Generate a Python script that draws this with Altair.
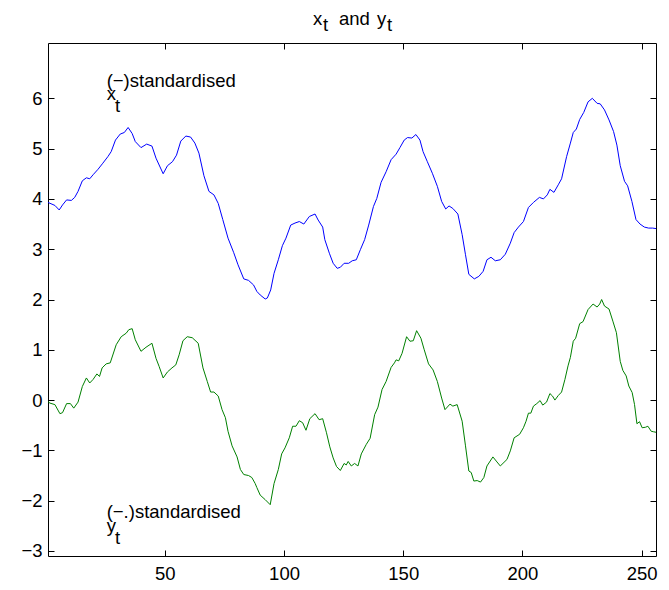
import altair as alt
import pandas as pd

# ---- data ----
t_x = [1, 3.9, 5.7, 7.1, 8.8, 10.8, 12.2, 13.6, 15.4, 17.1, 18.5, 19.9, 22.0, 24.0, 26.1, 27.5,
       29.3, 31.3, 33.0, 34.6, 36.3, 37.6, 40.0, 42.4, 44.6, 46.3, 49.3, 51.1, 53.2, 54.9, 56.7,
       58.8, 60.8, 62.6, 64.3, 66.4, 68.5, 70.6, 72.4, 74.3, 76.5, 78.9, 80.7, 83.1, 85.1, 87.2,
       88.6, 90.0, 92.1, 93.0, 94.4, 95.8, 97.6, 99.3, 100.8, 102.8, 104.6, 106.4, 108.3, 110.6,
       113.0, 114.3, 116.2, 117.1, 119.0, 120.6, 122.3, 123.6, 125.2, 127.1, 128.6, 130.3, 132.0,
       133.8, 135.5, 137.5, 138.9, 140.7, 142.8, 144.9, 147.0, 148.6, 150.4, 151.8, 153.6, 155.3,
       157.0, 158.3, 160.1, 162.2, 164.3, 166.1, 167.8, 169.2, 170.8, 172.9, 174.7, 176.1, 177.5,
       179.8, 181.7, 183.5, 185.1, 186.8, 188.6, 190.7, 192.8, 194.9, 196.5, 198.3, 200.4, 202.5,
       204.6, 207.1, 208.8, 210.4, 211.5, 213.2, 215.0, 216.4, 218.5, 220.1, 221.3, 222.6, 224.0,
       225.7, 227.5, 229.3, 231.3, 232.6, 234.4, 236.3, 238.2, 239.6, 241.0, 242.8, 244.1, 245.9,
       247.6, 249.3, 251.1, 252.9, 254.6, 256]
x_vals = [3.93, 3.87, 3.78, 3.88, 3.98, 3.97, 4.03, 4.15, 4.36, 4.42, 4.40, 4.48, 4.59, 4.71, 4.84, 4.94,
          5.17, 5.29, 5.32, 5.42, 5.30, 5.14, 5.02, 5.09, 5.05, 4.81, 4.50, 4.66, 4.74, 4.87, 5.15,
          5.25, 5.23, 5.11, 4.91, 4.46, 4.15, 4.08, 3.91, 3.59, 3.22, 2.93, 2.69, 2.41, 2.38, 2.29,
          2.16, 2.09, 2.01, 2.03, 2.19, 2.52, 2.79, 3.07, 3.22, 3.48, 3.52, 3.55, 3.50, 3.65,
          3.70, 3.58, 3.44, 3.19, 2.92, 2.72, 2.62, 2.64, 2.72, 2.72, 2.77, 2.79, 2.99,
          3.19, 3.48, 3.85, 4.01, 4.33, 4.54, 4.78, 4.89, 5.02, 5.17, 5.22, 5.21, 5.28,
          5.17, 4.94, 4.74, 4.51, 4.25, 3.95, 3.80, 3.86, 3.81, 3.70, 3.29, 2.89, 2.50,
          2.41, 2.46, 2.56, 2.79, 2.84, 2.77, 2.79, 2.90, 3.12, 3.33, 3.44, 3.55, 3.83,
          3.93, 4.03, 4.00, 4.08, 4.19, 4.13, 4.28, 4.40, 4.84, 5.11, 5.32, 5.39, 5.58,
          5.72, 5.93, 6.00, 5.90, 5.89, 5.77, 5.57, 5.34, 5.07, 4.66, 4.35, 4.26, 3.95,
          3.59, 3.50, 3.44, 3.42, 3.42, 3.41]

t_y = [1, 1.8, 3.9, 6.0, 7.1, 8.8, 10.4, 11.8, 13.6, 15.4, 17.1, 18.5, 19.9, 21.5, 22.6, 23.7,
       25.4, 27.1, 29.6, 31.7, 33.8, 34.9, 36.3, 37.6, 40.0, 42.1, 44.6, 46.3, 47.6, 49.3, 51.1,
       53.0, 54.6, 56.0, 57.6, 59.4, 61.5, 64.0, 66.0, 67.8, 69.2, 70.6, 72.4, 74.0, 75.4, 76.5,
       78.2, 80.3, 81.7, 83.1, 85.1, 86.5, 87.9, 88.6, 90.0, 92.1, 94.2, 95.8, 97.6, 99.0, 100.4,
       102.2, 103.6, 105.0, 106.4, 107.8, 109.2, 110.8, 113.0, 114.7, 116.2, 117.8, 119.2, 120.6,
       122.0, 123.6, 125.2, 126.1, 126.9, 128.2, 129.6, 131.0, 132.4, 134.5, 136.1, 138.0, 139.4,
       141.1, 142.8, 144.9, 146.3, 147.0, 148.1, 149.5, 151.4, 152.8, 154.2, 155.6, 157.4, 158.8,
       160.6, 162.5, 164.3, 166.1, 167.5, 169.6, 170.8, 172.6, 174.7, 176.1, 177.5, 178.5, 179.6,
       181.0, 182.4, 183.8, 185.1, 187.6, 189.3, 190.7, 193.5, 194.9, 196.5, 198.8, 200.4, 201.5,
       202.5, 203.5, 204.6, 206.0, 207.4, 208.5, 210.1, 211.5, 212.6, 213.6, 215.0, 216.4, 217.8,
       219.1, 220.1, 221.3, 222.3, 224.0, 225.4, 227.5, 229.6, 231.3, 232.4, 233.2, 234.4, 236.3,
       237.9, 239.4, 241.0, 242.1, 243.5, 244.6, 246.0, 247.0, 248.0, 249.1, 250.2, 251.6, 252.6,
       254.0, 255.0, 256]
y_vals = [-0.03, -0.06, -0.09, -0.27, -0.25, -0.07, -0.07, -0.16, -0.04, 0.27, 0.44, 0.34, 0.41, 0.52, 0.47, 0.64,
          0.72, 0.74, 1.10, 1.26, 1.33, 1.40, 1.42, 1.20, 0.97, 1.05, 1.13, 0.83, 0.67, 0.44, 0.56,
          0.64, 0.70, 0.90, 1.18, 1.26, 1.24, 1.13, 0.64, 0.37, 0.16, 0.16, 0.08, -0.19, -0.35, -0.62,
          -0.91, -1.13, -1.38, -1.48, -1.50, -1.54, -1.66, -1.74, -1.89, -1.98, -2.08, -1.66, -1.38, -1.07, -0.95,
          -0.75, -0.52, -0.52, -0.41, -0.45, -0.60, -0.37, -0.27, -0.39, -0.37, -0.65, -0.93, -1.15,
          -1.32, -1.40, -1.26, -1.29, -1.22, -1.31, -1.26, -1.31, -1.07, -0.88, -0.76, -0.29, -0.14,
          0.21, 0.37, 0.65, 0.74, 0.80, 0.78, 0.93, 1.26, 1.17, 1.18, 1.38, 1.23, 1.00,
          0.72, 0.60, 0.37, 0.04, -0.19, -0.08, -0.12, -0.09, -0.42, -0.91, -1.41, -1.44, -1.61,
          -1.60, -1.63, -1.54, -1.31, -1.13, -1.23, -1.31, -1.18, -1.01, -0.75, -0.68, -0.55, -0.42,
          -0.26, -0.26, -0.12, -0.07, -0.01, -0.10, -0.04, 0.13, 0.08, 0.00, 0.09, 0.16, 0.41,
          0.68, 0.85, 1.17, 1.23, 1.52, 1.56, 1.80, 1.91, 1.85, 1.91, 2.00, 1.87, 1.81,
          1.57, 1.34, 0.77, 0.59, 0.48, 0.28, 0.15, -0.09, -0.47, -0.43, -0.55, -0.54, -0.52,
          -0.62, -0.63, -0.64]

x_ticks = [50, 100, 150, 200, 250]
y_ticks = [-3, -2, -1, 0, 1, 2, 3, 4, 5, 6]

ann_text = ["(\u2212)standardised", "x", "t", "(\u2212.)standardised", "y", "t"]
ann_t = [25.6, 25.6, 29.1, 25.6, 25.6, 29.1]
ann_v = [6.22, 5.97, 5.73, -2.34, -2.62, -2.87]

title_parts = ["x", "t", "and", "y", "t"]

# ---- styling / layout ----
FONT = "Liberation Sans"
FS = 18.5
PLOT_W, PLOT_H = 608, 513
X_DOMAIN = [1, 256]
Y_DOMAIN = [-3.1, 7.1]

df_x = pd.DataFrame({"t": t_x, "v": x_vals})
df_y = pd.DataFrame({"t": t_y, "v": y_vals})
df_ann = pd.DataFrame({"t": ann_t, "v": ann_v, "label": ann_text})

xs = alt.Scale(domain=X_DOMAIN, nice=False, zero=False)
ys = alt.Scale(domain=Y_DOMAIN, nice=False, zero=False)

common_axis = dict(grid=False, domain=False, tickSize=6, offset=-6, tickColor="black",
                   tickWidth=1, title=None, labelFont=FONT, labelFontSize=FS,
                   labelColor="black")

ax_bottom = alt.Axis(orient="bottom", values=x_ticks, labelPadding=8, **common_axis)
ax_left = alt.Axis(orient="left", values=y_ticks, labelPadding=6, **common_axis)
ax_top = alt.Axis(orient="top", values=x_ticks, labels=False, **common_axis)
ax_right = alt.Axis(orient="right", values=y_ticks, labels=False, **common_axis)

line_x = alt.Chart(df_x).mark_line(color="#0000ff", strokeWidth=1).encode(
    x=alt.X("t:Q", scale=xs, axis=ax_bottom),
    y=alt.Y("v:Q", scale=ys, axis=ax_left),
)
line_y = alt.Chart(df_y).mark_line(color="#008000", strokeWidth=1).encode(
    x=alt.X("t:Q", scale=xs, axis=ax_top),
    y=alt.Y("v:Q", scale=ys, axis=ax_right),
)
ann = alt.Chart(df_ann).mark_text(align="left", baseline="alphabetic", font=FONT,
                                  fontSize=FS, color="black").encode(
    x=alt.X("t:Q", scale=xs, axis=None),
    y=alt.Y("v:Q", scale=ys, axis=None),
    text="label:N",
)

# title pieces (x_t and y_t), positioned in pixels above the plot
title_pos = [(265, -18), (275, -12), (291, -18), (329, -18), (339, -12)]
title_layers = []
for part, (px, py) in zip(title_parts, title_pos):
    title_layers.append(
        alt.Chart(pd.DataFrame({"label": [part]})).mark_text(
            align="left", baseline="alphabetic", font=FONT, fontSize=FS, color="black"
        ).encode(x=alt.value(px), y=alt.value(py), text="label:N")
    )

chart = alt.layer(line_x, line_y, ann, *title_layers).resolve_axis(
    x="independent", y="independent"
).properties(
    width=PLOT_W, height=PLOT_H,
    padding={"left": 48, "top": 43, "right": 13, "bottom": 34},
    autosize=alt.AutoSizeParams(type="none"),
    background="white",
).configure_view(stroke="black", strokeWidth=1)

chart.save("out.html", embed_options={"renderer": "svg", "actions": False})
